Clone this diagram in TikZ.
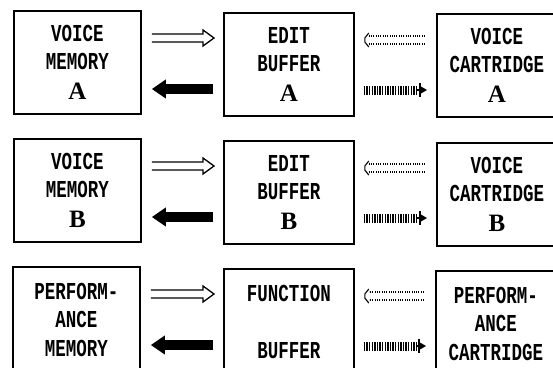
\documentclass[tikz,border=0pt]{standalone}
\usepackage{fontspec}
\newfontfamily\boxfont[FakeStretch=0.72]{Liberation Mono}
\newfontfamily\letfont{Liberation Serif}
\usetikzlibrary{calc,arrows.meta}
\newcommand\BigLet[1]{{\letfont\bfseries\fontsize{25}{25}\selectfont #1}}
\newcommand\OpenArr[2]{%
  \draw[line width=1.3pt, line join=miter]
    ($(#1)+(0,-4)$) -- ($(#2)+(-11,-4)$) -- ($(#2)+(-11,-8)$) -- (#2)
    -- ($(#2)+(-11,8)$) -- ($(#2)+(-11,4)$) -- ($(#1)+(0,4)$);}
\newcommand\DotArr[2]{% #1 right end, #2 left tip
  \draw[line width=1.2pt, dash pattern=on 1pt off 1.3pt]
    ($(#1)+(0,-4)$) -- ($(#2)+(5,-4)$)
    ($(#1)+(0,4)$) -- ($(#2)+(5,4)$);
  \draw[line width=1.1pt] ($(#2)+(5,-7)$) -- ($(#2)+(1,-2)$) -- ($(#2)+(1,2)$) -- ($(#2)+(5,7)$);}
\newcommand\HatchArr[2]{% #1 left start, #2 right tip
  \draw[line width=9pt, dash pattern=on 1.3pt off 1.3pt] (#1) -- ($(#2)+(-10,0)$);
  \draw[line width=1.3pt] ($(#2)+(-7,-7)$) -- ($(#2)+(-7,7)$);
  \draw[line width=1.3pt] ($(#2)+(-10,0)$) -- ($(#2)+(-6,0)$);
  \fill ($(#2)+(-6,-3.5)$) -- (#2) -- ($(#2)+(-6,3.5)$) -- cycle;}
\begin{document}
\begin{tikzpicture}[x=1pt,y=-1pt,
  box/.style={draw, line width=1.8pt, anchor=north west, inner sep=0pt,
    align=center, font=\boxfont\bfseries\fontsize{24.3}{27.6}\selectfont},
  lbox/.style={box, minimum width=127pt},
  mbox/.style={box, minimum width=130pt},
  rbox/.style={box, minimum width=120pt},
  tallbox/.style={minimum height=103pt},
  lowbox/.style={minimum height=106pt},
  thickarr/.style={line width=10pt, -{Triangle[length=14pt,width=18pt]}}]
\useasboundingbox (0,0) rectangle (553,367);
\begin{scope}
\clip (0,0) rectangle (553,367);
% row A
\node[lbox, tallbox] (lA) at (13,10) {VOICE\\MEMORY\\[2.5pt]\BigLet{A}};
\node[mbox, tallbox] (mA) at (223,12) {EDIT\\BUFFER\\[2.5pt]\BigLet{A}};
\node[rbox, tallbox] (rA) at (436,13) {VOICE\\CARTRIDGE\\[2.5pt]\BigLet{A}};
% row B
\node[lbox, tallbox] (lB) at (13,138) {VOICE\\MEMORY\\[2.5pt]\BigLet{B}};
\node[mbox, tallbox] (mB) at (223,140) {EDIT\\BUFFER\\[2.5pt]\BigLet{B}};
\node[rbox, tallbox] (rB) at (436,142) {VOICE\\CARTRIDGE\\[2.5pt]\BigLet{B}};
% row C
\node[lbox, lowbox] (lC) at (12,266) {PERFORM-\\[1pt]ANCE\\[1pt]MEMORY};
\node[mbox, lowbox] (mC) at (223,268) {FUNCTION\\[30pt]BUFFER};
\node[rbox, lowbox] (rC) at (435,270) {PERFORM-\\[1pt]ANCE\\[1pt]CARTRIDGE};
\end{scope}
\foreach \r in {A,B,C}{
  % open arrow left -> middle
  \coordinate (os\r) at ($(l\r.north east)+(10,28)$);
  \coordinate (ot\r) at ($(m\r.west |- os\r)+(-9,0)$);
  \OpenArr{os\r}{ot\r}
  % thick arrow middle -> left
  \coordinate (ts\r) at ($(l\r.north east)+(10,79)$);
  \coordinate (te\r) at ($(m\r.west |- ts\r)+(-10,0)$);
  \draw[thickarr] (te\r) -- (ts\r);
  % dotted arrow right -> middle
  \coordinate (dt\r) at ($(m\r.north east)+(9,28)$);
  \coordinate (ds\r) at ($(r\r.west |- dt\r)+(-11,0)$);
  \DotArr{ds\r}{dt\r}
  % hatched arrow middle -> right
  \coordinate (hs\r) at ($(m\r.north east)+(9,78)$);
  \coordinate (ht\r) at ($(r\r.west |- hs\r)+(-9,0)$);
  \HatchArr{hs\r}{ht\r}
}
\end{tikzpicture}
\end{document}
